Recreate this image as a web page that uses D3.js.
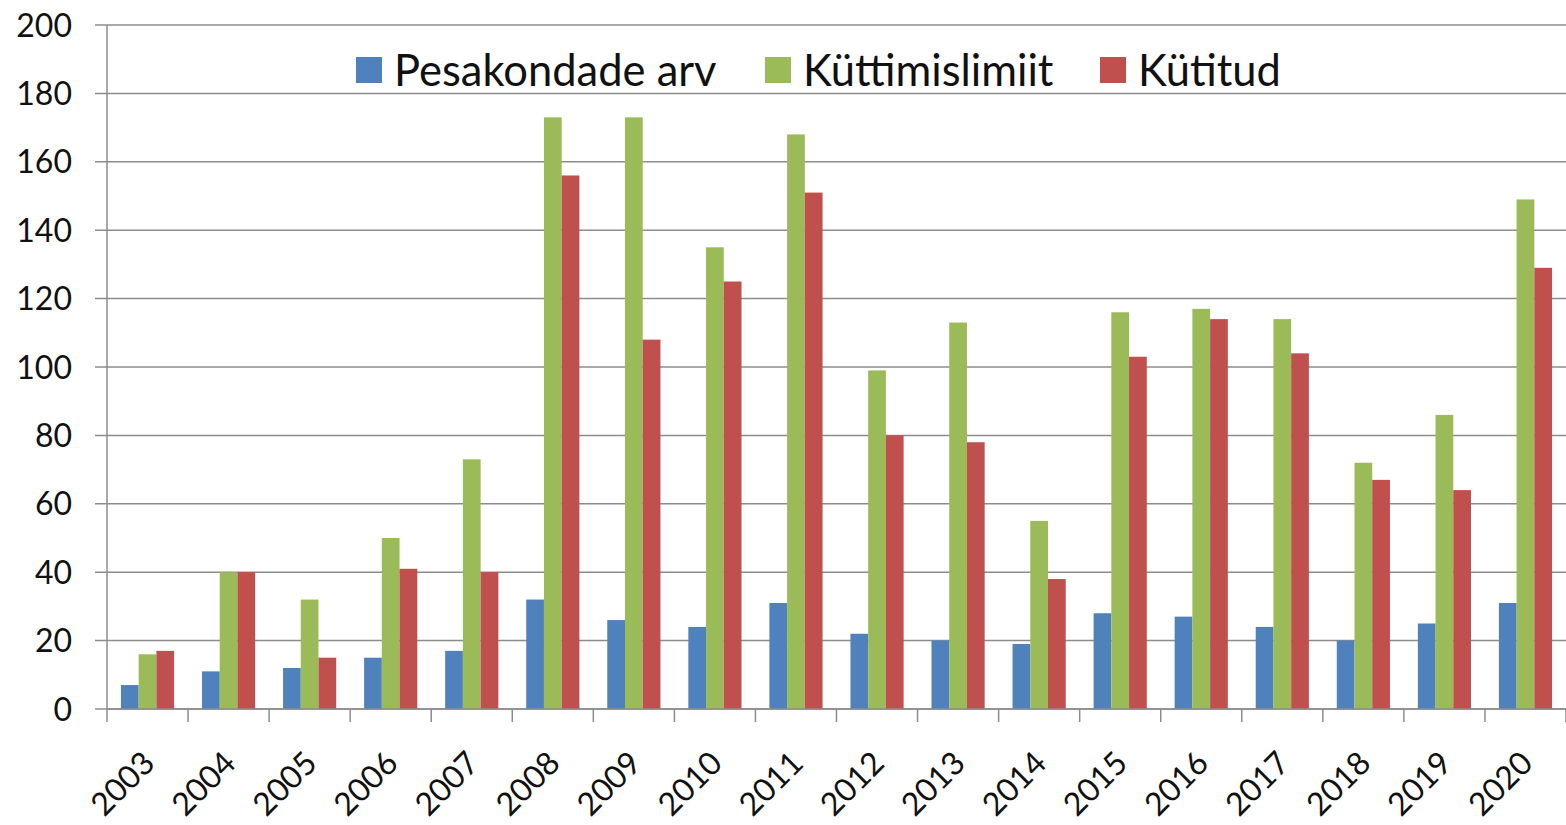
<!DOCTYPE html>
<html>
<head>
<meta charset="utf-8">
<script src="https://cdn.jsdelivr.net/npm/d3@7"></script>
<style>
  body { margin: 0; background: #fff; }
  svg { display: block; font-family: Lato, "Open Sans", sans-serif; }
</style>
</head>
<body>
<svg id="chart" width="1566" height="825"></svg>
<script>
var years = ["2003","2004","2005","2006","2007","2008","2009","2010","2011",
             "2012","2013","2014","2015","2016","2017","2018","2019","2020"];
var seriesNames = ["Pesakondade arv", "Küttimislimiit", "Kütitud"];
var seriesColors = ["#4F81BD", "#9BBB59", "#C0504D"];
var pesakonnad = [7, 11, 12, 15, 17, 32, 26, 24, 31, 22, 20, 19, 28, 27, 24, 20, 25, 31];
var limiit =     [16, 40, 32, 50, 73, 173, 173, 135, 168, 99, 113, 55, 116, 117, 114, 72, 86, 149];
var kytitud =    [17, 40, 15, 41, 40, 156, 108, 125, 151, 80, 78, 38, 103, 114, 104, 67, 64, 129];
var yTicks = [0, 20, 40, 60, 80, 100, 120, 140, 160, 180, 200];

var values = [pesakonnad, limiit, kytitud];

var svg = d3.select("#chart");
var plotLeft = 107, plotRight = 1566, plotTop = 25, plotBottom = 709;
var gridColor = "#8c8c8c";

var x = d3.scaleBand().domain(years).range([plotLeft, plotRight]);
var x1 = d3.scaleBand().domain(seriesNames)
    .range([x.bandwidth() * 0.172, x.bandwidth() * 0.828]);
var y = d3.scaleLinear().domain([0, 200]).range([plotBottom, plotTop]);

// gridlines
svg.append("g").selectAll("line")
    .data(yTicks)
  .enter()
    .append("line")
    .attr("x1", plotLeft - 12).attr("x2", plotRight)
    .attr("y1", function(d) { return y(d); })
    .attr("y2", function(d) { return y(d); })
    .attr("stroke", gridColor).attr("stroke-width", 1.5);

// y tick labels
svg.append("g").selectAll("text")
    .data(yTicks)
  .enter()
    .append("text")
    .attr("x", 72)
    .attr("y", function(d) { return y(d); })
    .attr("dy", "0.36em")
    .attr("text-anchor", "end")
    .attr("font-size", 32)
    .attr("fill", "#111")
    .text(function(d) { return d; });

// bars
var groups = svg.append("g").selectAll("g")
    .data(years)
  .enter()
    .append("g")
    .attr("transform", function(d) { return "translate(" + x(d) + ",0)"; });

groups.selectAll("rect")
    .data(function(d, i) {
        return seriesNames.map(function(s, j) {
            return { series: s, value: values[j][i], color: seriesColors[j] };
        });
    })
  .enter()
    .append("rect")
    .attr("x", function(d) { return x1(d.series); })
    .attr("width", x1.bandwidth())
    .attr("y", function(d) { return y(d.value); })
    .attr("height", function(d) { return plotBottom - y(d.value); })
    .attr("fill", function(d) { return d.color; });

// axis lines
svg.append("line")
    .attr("x1", plotLeft).attr("x2", plotLeft)
    .attr("y1", plotTop).attr("y2", plotBottom + 13)
    .attr("stroke", gridColor).attr("stroke-width", 1.5);
svg.append("line")
    .attr("x1", plotLeft).attr("x2", plotRight)
    .attr("y1", plotBottom).attr("y2", plotBottom)
    .attr("stroke", gridColor).attr("stroke-width", 1.5);

// category ticks
svg.append("g").selectAll("line")
    .data(years)
  .enter()
    .append("line")
    .attr("x1", function(d) { return x(d) + x.bandwidth(); })
    .attr("x2", function(d) { return x(d) + x.bandwidth(); })
    .attr("y1", plotBottom).attr("y2", plotBottom + 13)
    .attr("stroke", gridColor).attr("stroke-width", 1.5);

// x labels
svg.append("g").selectAll("text")
    .data(years)
  .enter()
    .append("text")
    .attr("transform", function(d) {
        return "translate(" + (x(d) + x.bandwidth() / 2 + 1) + ",757) rotate(-45)";
    })
    .attr("text-anchor", "end")
    .attr("dy", "0.36em")
    .attr("font-size", 32)
    .attr("fill", "#111")
    .text(function(d) { return d; });

// legend
var legendX = [356, 765, 1100];
var legend = svg.append("g").selectAll("g")
    .data(seriesNames)
  .enter()
    .append("g")
    .attr("transform", function(d, i) { return "translate(" + legendX[i] + ",57)"; });
legend.append("rect")
    .attr("width", 26).attr("height", 26)
    .attr("fill", function(d, i) { return seriesColors[i]; });
legend.append("text")
    .attr("x", 38).attr("y", 13).attr("dy", "0.36em")
    .attr("font-size", 43.5)
    .attr("fill", "#111")
    .text(function(d) { return d; });
</script>
</body>
</html>
